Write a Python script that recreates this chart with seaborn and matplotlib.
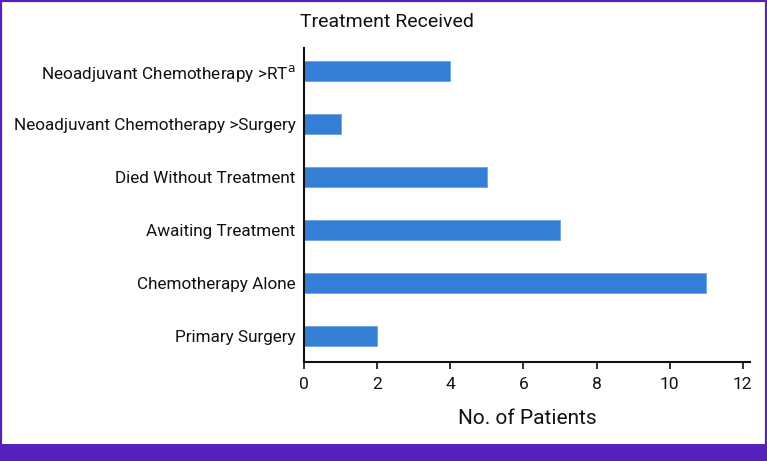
import matplotlib
matplotlib.use("Agg")
import matplotlib.pyplot as plt
import seaborn as sns
import pandas as pd
from matplotlib.patches import Rectangle

sns.set_theme(style="white")
plt.rcParams["font.family"] = ["Roboto", "DejaVu Sans"]

# ─── data ────────────────────────────────────────────────────────────────────
treatments = [
    "Neoadjuvant Chemotherapy >RT$^{\\mathrm{a}}$",
    "Neoadjuvant Chemotherapy >Surgery",
    "Died Without Treatment",
    "Awaiting Treatment",
    "Chemotherapy Alone",
    "Primary Surgery",
]
patients = [4, 1, 5, 7, 11, 2]
x_ticks = [0, 2, 4, 6, 8, 10, 12]

BAR_COLOR = "#357ED6"
PURPLE = "#5522BE"

df = pd.DataFrame({"Treatment": treatments, "Patients": patients})

fig = plt.figure(figsize=(7.67, 4.61), dpi=100)
ax = fig.add_axes([0.3963, 0.2148, 0.5817, 0.6812])

sns.barplot(data=df, y="Treatment", x="Patients", orient="h", color=BAR_COLOR,
            saturation=1, width=0.38, edgecolor="#6FA3E3", linewidth=0.6, ax=ax)

ax.set_xlim(0, 12.2)
ax.set_ylim(5.49, -0.434)
ax.set_xticks(x_ticks)
ax.set_xticklabels([str(t) for t in x_ticks])
ax.tick_params(axis="x", length=5, width=1.2, color="#111111", labelsize=12.5,
               labelcolor="#111111", pad=6, bottom=True, direction="out")
ax.tick_params(axis="y", length=0, labelsize=12.3, labelcolor="#111111", pad=6)
ax.set_ylabel("")
ax.set_xlabel("No. of Patients", fontsize=15, color="#111111", labelpad=12)

for side in ["top", "right"]:
    ax.spines[side].set_visible(False)
for side in ["left", "bottom"]:
    ax.spines[side].set_color("#111111")
    ax.spines[side].set_linewidth(1.5)

fig.text(0.391, 0.952, "Treatment Received", fontsize=14, color="#111111",
         ha="left", va="center")

# purple frame and bottom band
fig.patches.append(Rectangle((0, 0), 1, 17 / 461, transform=fig.transFigure,
                             facecolor=PURPLE, edgecolor="none", zorder=10))
fig.patches.append(Rectangle((0.5 / 767, 0), 1 - 1.5 / 767, 1 - 0.8 / 461,
                             transform=fig.transFigure, facecolor="none",
                             edgecolor=PURPLE, linewidth=1.6, zorder=10))

fig.savefig("out.png", dpi=100)
plt.close(fig)
